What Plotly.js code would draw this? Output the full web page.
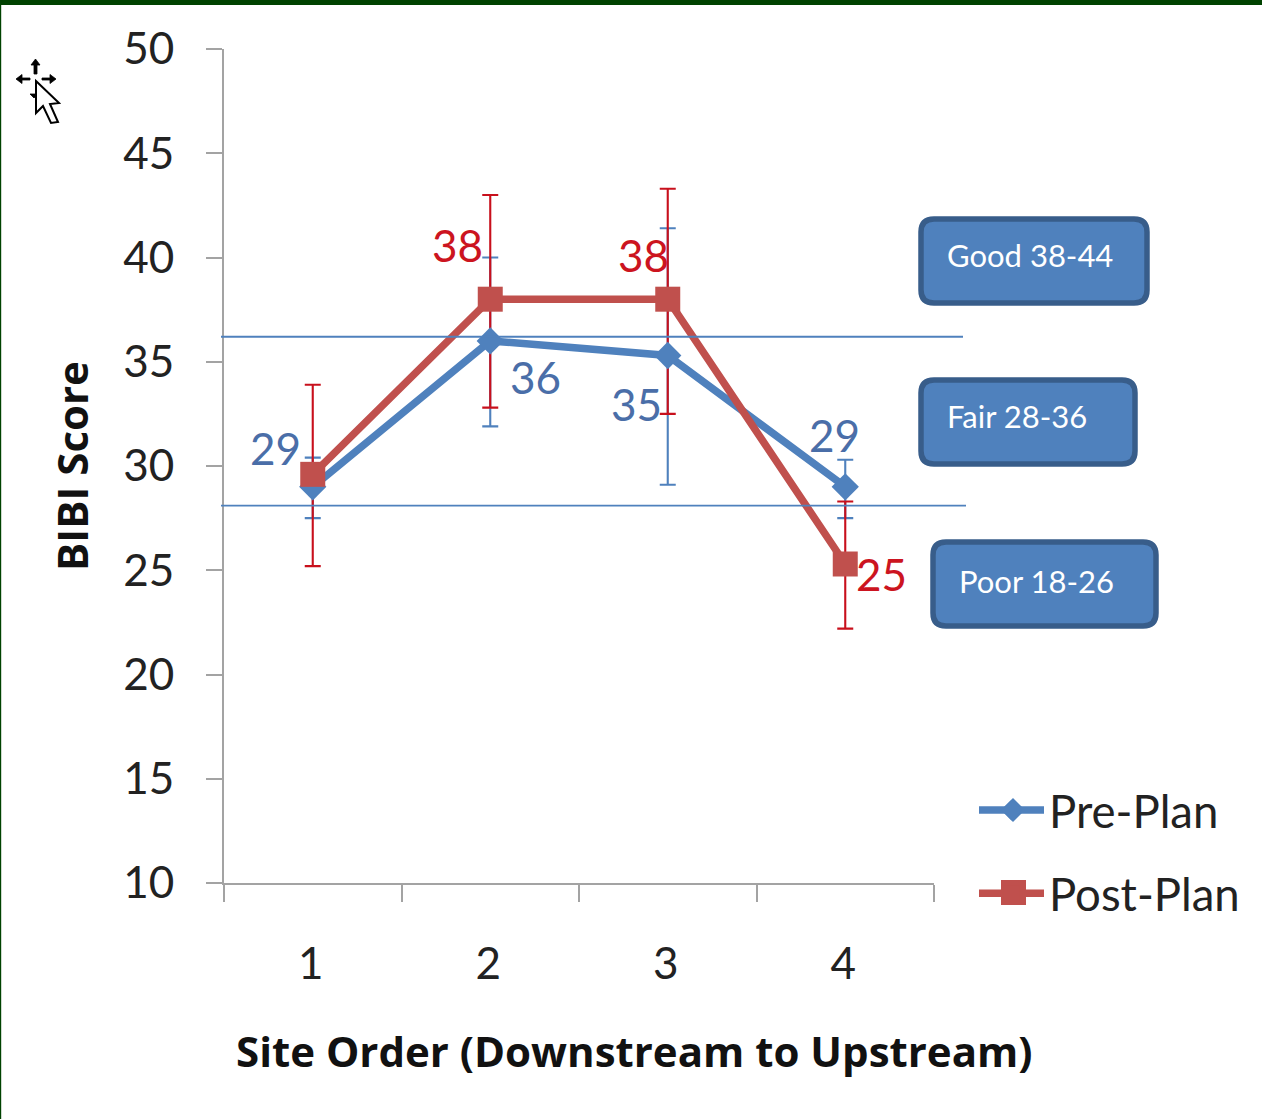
<!DOCTYPE html>
<html><head><meta charset="utf-8">
<script src="https://cdn.plot.ly/plotly-3.0.1.min.js"></script>
<style>html,body{margin:0;padding:0;background:#fff}</style></head>
<body><div id="chart" style="width:1262px;height:1119px"></div>
<script>
const sites = ['1','2','3','4'];
const prePlan = [29.0, 36.0, 35.3, 29.0];
const postPlan = [29.6, 38.0, 38.0, 25.3];
const preErrUp = [1.4, 4.0, 6.1, 1.3];
const preErrDown = [1.5, 4.1, 6.2, 1.5];
const postErrUp = [4.3, 5.0, 5.3, 3.0];
const postErrDown = [4.4, 5.2, 5.5, 3.1];
const preLabels = ['29','36','35','29'];
const postLabels = ['38','38','25'];
const thresholds = [36.2, 28.1];
const ratingBoxes = ['Good 38-44','Fair 28-36','Poor 18-26'];

const W = 1262, H = 1119, L = 224, T = 49, PW = 710, PH = 834;
const px = x => (x - L) / PW;
const py = y => 1 - (y - T) / PH;
const BLUE = '#4f81bd', RED = '#c0504d', ERR_RED = '#c8101c', BORDER = '#385d8a';
const LABEL_BLUE = '#4a6ea8', LABEL_RED = '#cc1420', FONT = 'Lato, "Open Sans", sans-serif';
const TITLE_FONT = '"Open Sans", Lato, sans-serif';

function roundRect(x0, y0, x1, y1, r) {
  const X = v => px(v), Y = v => py(v);
  const dx = r / PW, dy = r / PH;
  return `M${X(x0)+dx},${Y(y0)} L${X(x1)-dx},${Y(y0)} Q${X(x1)},${Y(y0)} ${X(x1)},${Y(y0)-dy} ` +
    `L${X(x1)},${Y(y1)+dy} Q${X(x1)},${Y(y1)} ${X(x1)-dx},${Y(y1)} L${X(x0)+dx},${Y(y1)} ` +
    `Q${X(x0)},${Y(y1)} ${X(x0)},${Y(y1)+dy} L${X(x0)},${Y(y0)-dy} Q${X(x0)},${Y(y0)} ${X(x0)+dx},${Y(y0)} Z`;
}
function poly(pts) {
  return 'M' + pts.map(p => px(p[0]) + ',' + py(p[1])).join(' L') + ' Z';
}
const paperShape = (path, fill, lineColor, lw) => ({type:'path', xref:'paper', yref:'paper', path,
  fillcolor: fill, line:{color: lineColor, width: lw}, layer:'above'});

const shapes = [
  {type:'rect', xref:'paper', yref:'paper', x0:px(0), x1:px(W), y0:py(0), y1:py(5), fillcolor:'#004200', line:{width:0}},
  {type:'rect', xref:'paper', yref:'paper', x0:px(0), x1:px(1.2), y0:py(0), y1:py(H), fillcolor:'#004200', line:{width:0}},
  {type:'line', xref:'paper', yref:'y', x0:px(221), x1:px(963), y0:thresholds[0], y1:thresholds[0], line:{color:BLUE, width:1.8}, layer:'above'},
  {type:'line', xref:'paper', yref:'y', x0:px(221), x1:px(966), y0:thresholds[1], y1:thresholds[1], line:{color:BLUE, width:1.8}, layer:'above'},
  paperShape(roundRect(921,219,1147,303,13), BLUE, BORDER, 5.5),
  paperShape(roundRect(921,380,1135,464,13), BLUE, BORDER, 5.5),
  paperShape(roundRect(933,542,1156,626,13), BLUE, BORDER, 5.5),
  // move-cursor glyph
  paperShape(poly([[35.5,59],[40,65],[37,65],[37,74],[34,74],[34,65],[31,65]]), '#000', '#000', 0.8),
  paperShape(poly([[16,79],[22,74.5],[22,78],[30,78],[30,80],[22,80],[22,83.5]]), '#000', '#000', 0.8),
  paperShape(poly([[56,79],[50,74.5],[50,78],[42,78],[42,80],[50,80],[50,83.5]]), '#000', '#000', 0.8),
  paperShape(poly([[30,94],[38,94],[34,98]]), '#000', '#000', 0.8),
  paperShape(poly([[36,81],[59,103],[50,104],[58,122],[51,123],[43,106],[36,113]]), '#fff', '#000', 2),
  // enlarged legend keys
  paperShape(poly([[1013,798],[1025,810],[1013,822],[1001,810]]), BLUE, BLUE, 0),
  paperShape(poly([[1001,880],[1026,880],[1026,905],[1001,905]]), RED, RED, 0)
];

const txt = (x, y, t, color, xshift, yshift) => ({x, y, xref:'x', yref:'y', text:t, showarrow:false,
  xshift, yshift, xanchor:'center', yanchor:'middle', font:{family:FONT, size:44, color}});
const paperTxt = (x, y, t, size, color, anchor, family, weight) => ({x:px(x), y:py(y), xref:'paper', yref:'paper', text:t, showarrow:false,
  xanchor:anchor, yanchor:'middle', font:{family, size, color, weight}});

const annotations = [
  txt(0, prePlan[0], preLabels[0], LABEL_BLUE, -37, 39),
  txt(1, prePlan[1], preLabels[1], LABEL_BLUE, 45, -36),
  txt(2, prePlan[2], preLabels[2], LABEL_BLUE, -31, -48),
  txt(3, prePlan[3], preLabels[3], LABEL_BLUE, -11, 52),
  txt(1, postPlan[1], postLabels[0], LABEL_RED, -33, 54),
  txt(2, postPlan[2], postLabels[1], LABEL_RED, -24, 44),
  txt(3, postPlan[3], postLabels[2], LABEL_RED, 36, -10),
  paperTxt(945, 255, ratingBoxes[0], 31, '#fff', 'left', FONT),
  paperTxt(945, 416, ratingBoxes[1], 31, '#fff', 'left', FONT),
  paperTxt(957, 581, ratingBoxes[2], 31, '#fff', 'left', FONT),
  paperTxt(634, 1050, 'Site Order (Downstream to Upstream)', 42, '#111', 'center', TITLE_FONT, 700)
];

const errTrace = (vals, up, down, color) => ({
  x: sites, y: vals, type:'scatter', mode:'markers', marker:{size:1, opacity:0, color}, showlegend:false, hoverinfo:'skip',
  error_y:{type:'data', symmetric:false, array:up, arrayminus:down, color, thickness:2.1, width:8}
});
const lineTrace = (name, vals, color, symbol, size) => ({
  x: sites, y: vals, name, legendgroup:name, type:'scatter', mode:'lines+markers',
  line:{color, width:7.5}, marker:{color, symbol, size}
});

const data = [
  errTrace(prePlan, preErrUp, preErrDown, BLUE),
  errTrace(postPlan, postErrUp, postErrDown, ERR_RED),
  lineTrace('Pre-Plan', prePlan, BLUE, 'diamond', 21),
  lineTrace('Post-Plan', postPlan, RED, 'square', 25)
];

const layout = {
  width:W, height:H, autosize:false, paper_bgcolor:'#fff', plot_bgcolor:'#fff',
  margin:{l:L, t:T, r:W-L-PW, b:H-T-PH, pad:0},
  font:{family:FONT, color:'#222'},
  xaxis:{type:'category', tickson:'boundaries', range:[-0.5,3.5], showgrid:false, zeroline:false,
    showline:true, linecolor:'#a3a3a3', linewidth:2, ticks:'outside', ticklen:17, tickwidth:2, tickcolor:'#a3a3a3',
    tickfont:{family:FONT, size:44, color:'#222'}, ticklabelstandoff:41, ticklabelshift:-2},
  yaxis:{range:[10,50], tick0:10, dtick:5, showgrid:false, zeroline:false,
    showline:true, linecolor:'#a3a3a3', linewidth:2, ticks:'outside', ticklen:16, tickwidth:2, tickcolor:'#a3a3a3',
    tickfont:{family:FONT, size:44, color:'#222'}, ticklabelstandoff:23,
    title:{text:'BIBI Score', font:{family:TITLE_FONT, size:42, color:'#111', weight:700}, standoff:21}},
  showlegend:true,
  legend:{x:px(974), y:py(774), xanchor:'left', yanchor:'top', bgcolor:'rgba(0,0,0,0)', borderwidth:0,
    traceorder:'grouped', tracegroupgap:21, itemwidth:65, font:{family:FONT, size:45.5, color:'#222'}, itemclick:false},
  shapes, annotations
};
Plotly.newPlot('chart', data, layout, {displayModeBar:false, staticPlot:true});
</script></body></html>
